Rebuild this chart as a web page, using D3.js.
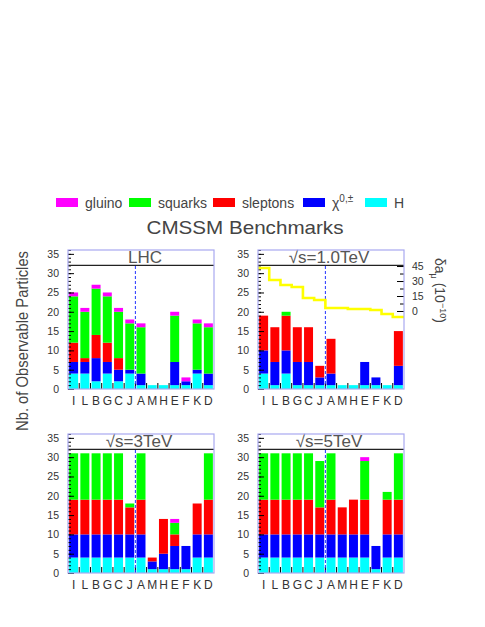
<!DOCTYPE html>
<html>
<head>
<meta charset="utf-8">
<script src="https://cdn.jsdelivr.net/npm/d3@7"></script>
<style>
  body { margin: 0; background: #fff; }
  text { font-family: "Liberation Sans", Arial, sans-serif; fill: #444; }
</style>
</head>
<body>
<div id="chart"></div>
<script>
// benchmark points
const categories = ['I', 'L', 'B', 'G', 'C', 'J', 'A', 'M', 'H', 'E', 'F', 'K', 'D'];
const species = ['H', 'chi', 'sleptons', 'squarks', 'gluino'];
const yTicks = [0, 5, 10, 15, 20, 25, 30, 35];
const damuTicks = [0, 15, 30, 45];

// LHC
const lhcH        = [4, 4, 2, 4, 2, 4, 1, 1, 1, 1, 1, 4, 1];
const lhcChi      = [3, 3, 6, 3, 3, 1, 3, 0, 0, 6, 1, 1, 3];
const lhcSleptons = [5, 1, 6, 5, 3, 0, 0, 0, 0, 0, 0, 0, 0];
const lhcSquarks  = [12, 12, 12, 12, 12, 12, 12, 0, 0, 12, 0, 12, 12];
const lhcGluino   = [1, 1, 1, 1, 1, 1, 1, 0, 0, 1, 1, 1, 1];

// sqrt(s) = 1.0 TeV
const lc1H        = [4, 1, 4, 1, 1, 1, 1, 1, 1, 1, 1, 1, 1];
const lc1Chi      = [6, 6, 6, 6, 6, 2, 3, 0, 0, 6, 2, 0, 5];
const lc1Sleptons = [9, 9, 9, 9, 9, 3, 9, 0, 0, 0, 0, 0, 9];
const lc1Squarks  = [0, 0, 1, 0, 0, 0, 0, 0, 0, 0, 0, 0, 0];
const lc1Gluino   = [0, 0, 0, 0, 0, 0, 0, 0, 0, 0, 0, 0, 0];
// delta a_mu (10^-10) per benchmark
const damu        = [43, 31, 26, 24, 13, 11, 3, 3, 2, 2, 1, -3, -6];

// sqrt(s) = 3 TeV
const lc3H        = [4, 4, 4, 4, 4, 4, 4, 1, 1, 1, 1, 4, 4];
const lc3Chi      = [6, 6, 6, 6, 6, 6, 6, 2, 4, 6, 6, 6, 6];
const lc3Sleptons = [9, 9, 9, 9, 9, 7, 9, 1, 9, 3, 0, 8, 9];
const lc3Squarks  = [12, 12, 12, 12, 12, 1, 12, 0, 0, 3, 0, 0, 12];
const lc3Gluino   = [0, 0, 0, 0, 0, 0, 0, 0, 0, 1, 0, 0, 0];

// sqrt(s) = 5 TeV
const lc5H        = [4, 4, 4, 4, 4, 4, 4, 4, 4, 4, 1, 4, 4];
const lc5Chi      = [6, 6, 6, 6, 6, 6, 6, 6, 6, 6, 6, 6, 6];
const lc5Sleptons = [9, 9, 9, 9, 9, 7, 9, 7, 9, 9, 0, 9, 9];
const lc5Squarks  = [12, 12, 12, 12, 12, 12, 12, 0, 0, 10, 0, 2, 12];
const lc5Gluino   = [0, 0, 0, 0, 0, 0, 0, 0, 0, 1, 0, 0, 0];

const colors = {
    H: '#00ffff',
    chi: '#0000ff',
    sleptons: '#ff0000',
    squarks: '#00ff00',
    gluino: '#ff00ff'
};

function rows (h, chi, sl, sq, gl) {
    return categories.map((c, i) => ({
        name: c, H: h[i], chi: chi[i], sleptons: sl[i], squarks: sq[i], gluino: gl[i]
    }));
}

const panels = [
    { title: 'LHC', data: rows(lhcH, lhcChi, lhcSleptons, lhcSquarks, lhcGluino), left: 68, top: 250 },
    { title: '\u221As=1.0TeV', data: rows(lc1H, lc1Chi, lc1Sleptons, lc1Squarks, lc1Gluino), left: 258, top: 250, damu: true },
    { title: '\u221As=3TeV', data: rows(lc3H, lc3Chi, lc3Sleptons, lc3Squarks, lc3Gluino), left: 68, top: 434 },
    { title: '\u221As=5TeV', data: rows(lc5H, lc5Chi, lc5Sleptons, lc5Squarks, lc5Gluino), left: 258, top: 434 }
];

const pw = 146, ph = 139;

const svg = d3.select('#chart').append('svg')
    .attr('width', 485)
    .attr('height', 627);

// 图例
const legendItems = [
    { key: 'gluino', label: 'gluino', x: 56 },
    { key: 'squarks', label: 'squarks', x: 129 },
    { key: 'sleptons', label: 'sleptons', x: 213 },
    { key: 'chi', label: '\u03C7', x: 303 },
    { key: 'H', label: 'H', x: 365 }
];
const legG = svg.append('g');
legendItems.forEach((d) => {
    legG.append('rect')
        .attr('x', d.x).attr('y', 198)
        .attr('width', 22).attr('height', 9)
        .style('fill', colors[d.key]);
    const t = legG.append('text')
        .attr('x', d.x + 29).attr('y', 208)
        .style('font-size', '14px')
        .text(d.label);
    if (d.key === 'chi') {
        t.append('tspan').attr('dy', -6).style('font-size', '10px').text('0,\u00B1');
    }
});

svg.append('text')
    .attr('x', 245).attr('y', 234)
    .attr('text-anchor', 'middle')
    .attr('textLength', 197)
    .attr('lengthAdjust', 'spacingAndGlyphs')
    .style('font-size', '19px')
    .text('CMSSM Benchmarks');

// y title
svg.append('text')
    .attr('transform', 'translate(28,341) rotate(-90)')
    .attr('text-anchor', 'middle')
    .attr('textLength', 180)
    .attr('lengthAdjust', 'spacingAndGlyphs')
    .style('font-size', '16px')
    .text('Nb. of Observable Particles');

const stack = d3.stack().keys(species);

panels.forEach((p) => {
    const g = svg.append('g').attr('transform', `translate(${p.left},${p.top})`);

    const x = d3.scaleBand()
        .domain(categories)
        .range([0, pw])
        .paddingInner(0.2)
        .paddingOuter(0.1);
    const y = d3.scaleLinear()
        .domain([0, 36])
        .range([ph, 0]);
    const step = x.step();
    const binStart = (c) => x(c) - x.paddingOuter() * step;

    // 画柱子
    const layers = stack(p.data);
    g.selectAll('g.layer')
        .data(layers)
        .enter()
        .append('g')
        .attr('class', 'layer')
        .style('fill', (d) => colors[d.key])
        .selectAll('rect')
        .data((d) => d)
        .enter()
        .append('rect')
        .attr('x', (d) => x(d.data.name))
        .attr('width', x.bandwidth())
        .attr('y', (d) => y(d[1]))
        .attr('height', (d) => y(d[0]) - y(d[1]));

    // 左轴
    const yMinor = g.append('g')
        .call(d3.axisLeft(y).tickValues(d3.range(0, 37)).tickSize(-3).tickFormat(''));
    yMinor.select('.domain').remove();
    const yMajor = g.append('g')
        .call(d3.axisLeft(y).tickValues(yTicks).tickSize(-6).tickPadding(9));
    yMajor.select('.domain').remove();
    yMajor.selectAll('text').style('font-size', '10.5px').style('fill', '#333');
    g.selectAll('.tick line').style('stroke', '#000');

    // x轴
    const xAxis = g.append('g')
        .attr('transform', `translate(0,${ph})`)
        .call(d3.axisBottom(x).tickSize(0).tickPadding(7));
    xAxis.select('.domain').remove();
    xAxis.selectAll('text').style('font-size', '12px').style('fill', '#333');
    g.selectAll('line.bin')
        .data(categories.slice(1))
        .enter()
        .append('line')
        .attr('class', 'bin')
        .attr('x1', (c) => binStart(c)).attr('x2', (c) => binStart(c))
        .attr('y1', ph).attr('y2', ph - 6)
        .style('stroke', '#000');

    // 分割线
    const sepX = binStart('A');
    g.append('line')
        .attr('x1', sepX).attr('x2', sepX)
        .attr('y1', y(0)).attr('y2', y(32))
        .style('stroke', '#2233ff')
        .style('stroke-width', 1)
        .style('stroke-dasharray', '3,2');

    if (p.damu) {
        const yd = d3.scaleLinear().domain([0, 45]).range([y(20.2), y(31.85)]);
        const pts = p.data.map((d, i) => [binStart(d.name), damu[i]]);
        pts.push([pw, damu[damu.length - 1]]);
        const line = d3.line()
            .curve(d3.curveStepAfter)
            .x((d) => d[0])
            .y((d) => yd(d[1]));
        g.append('path')
            .attr('d', line(pts))
            .style('fill', 'none')
            .style('stroke', '#ffff00')
            .style('stroke-width', 2.6);

        const rMinor = g.append('g')
            .attr('transform', `translate(${pw},0)`)
            .call(d3.axisRight(yd).tickValues(d3.range(0, 46, 7.5)).tickSize(-4).tickFormat(''));
        rMinor.select('.domain').remove();
        const rMajor = g.append('g')
            .attr('transform', `translate(${pw},0)`)
            .call(d3.axisRight(yd).tickValues(damuTicks).tickSize(-7).tickPadding(8));
        rMajor.select('.domain').remove();
        rMajor.selectAll('text').style('font-size', '10.5px').style('fill', '#333');
        rMajor.selectAll('.tick line, line').style('stroke', '#000');
        rMinor.selectAll('line').style('stroke', '#000');

        const lab = g.append('text')
            .attr('transform', `translate(${pw + 31},${8}) rotate(90)`)
            .style('font-size', '14px');
        lab.append('tspan').text('\u03B4a');
        lab.append('tspan').attr('dy', 4).style('font-size', '9px').text('\u03BC');
        lab.append('tspan').attr('dy', -4).text(' (10');
        lab.append('tspan').attr('dy', -5).style('font-size', '9px').text('\u221210');
        lab.append('tspan').attr('dy', 5).text(')');
    }

    // 标题框
    g.append('rect')
        .attr('x', 0).attr('y', 0)
        .attr('width', pw).attr('height', y(32))
        .style('fill', '#fff');
    g.append('line')
        .attr('x1', 0).attr('x2', pw)
        .attr('y1', y(32)).attr('y2', y(32))
        .style('stroke', '#222')
        .style('stroke-width', 1.3);
    g.append('text')
        .attr('x', pw / 2 + (p.title === 'LHC' ? 4 : -2))
        .attr('y', y(32) - 2)
        .attr('text-anchor', 'middle')
        .style('font-size', '17px')
        .style('fill', '#555')
        .text(p.title);
    // redraw left ticks inside title box
    g.append('g')
        .call(d3.axisLeft(y).tickValues(d3.range(33, 37)).tickSize(-3).tickFormat(''))
        .call((a) => a.select('.domain').remove())
        .selectAll('line').style('stroke', '#000');
    g.append('g')
        .call(d3.axisLeft(y).tickValues([35]).tickSize(-6).tickFormat(''))
        .call((a) => a.select('.domain').remove())
        .selectAll('line').style('stroke', '#000');

    // 边框
    g.append('rect')
        .attr('x', 0).attr('y', 0)
        .attr('width', pw).attr('height', ph)
        .style('fill', 'none')
        .style('stroke', '#a8a8f0')
        .style('stroke-width', 1.2);
});
</script>
</body>
</html>
